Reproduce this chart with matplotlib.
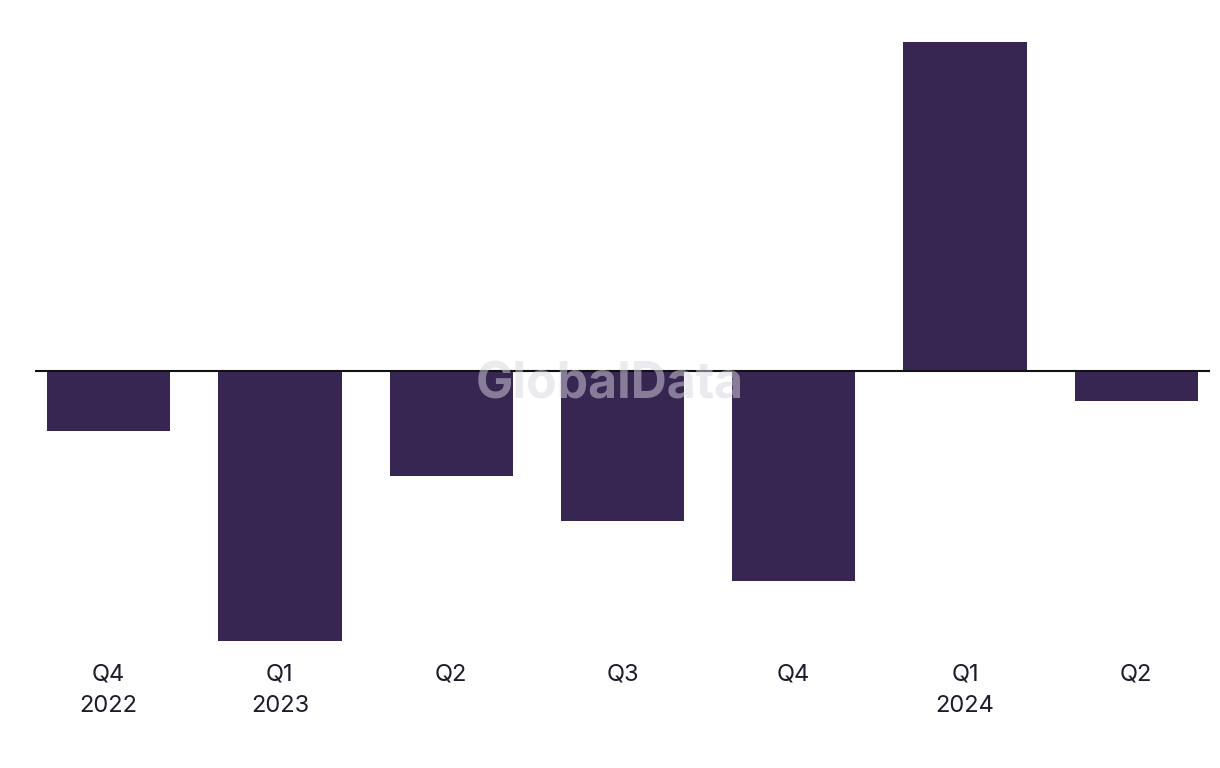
import matplotlib.pyplot as plt
import numpy as np

quarters = ['Q4\n2022', 'Q1\n2023', 'Q2', 'Q3', 'Q4', 'Q1\n2024', 'Q2']
values = [-60, -270, -105, -150, -210, 329, -30]

plt.rcParams['font.family'] = ['Inter', 'DejaVu Sans']

fig = plt.figure(figsize=(12.2, 7.68), dpi=100)
ax = fig.add_axes([0.0287, 0.1536, 0.963, 0.807])

x = np.arange(len(quarters))
ax.bar(x, values, width=0.72, color='#372552')
ax.axhline(0, color='#111111', linewidth=1.5)

ax.set_xlim(-0.43, 6.43)
ax.set_ylim(-279, 341)
ax.set_xticks(x)
ax.set_xticklabels(quarters, fontsize=17, color='#1c1c2b', linespacing=1.55)
ax.tick_params(axis='x', length=0, pad=10)
ax.set_yticks([])
for s in ax.spines.values():
    s.set_visible(False)

fig.text(0.5, 0.499, 'GlobalData', ha='center', va='center', fontsize=36,
         fontweight='bold', color='#d8d6de', alpha=0.5)

plt.savefig('out.png', dpi=100)
